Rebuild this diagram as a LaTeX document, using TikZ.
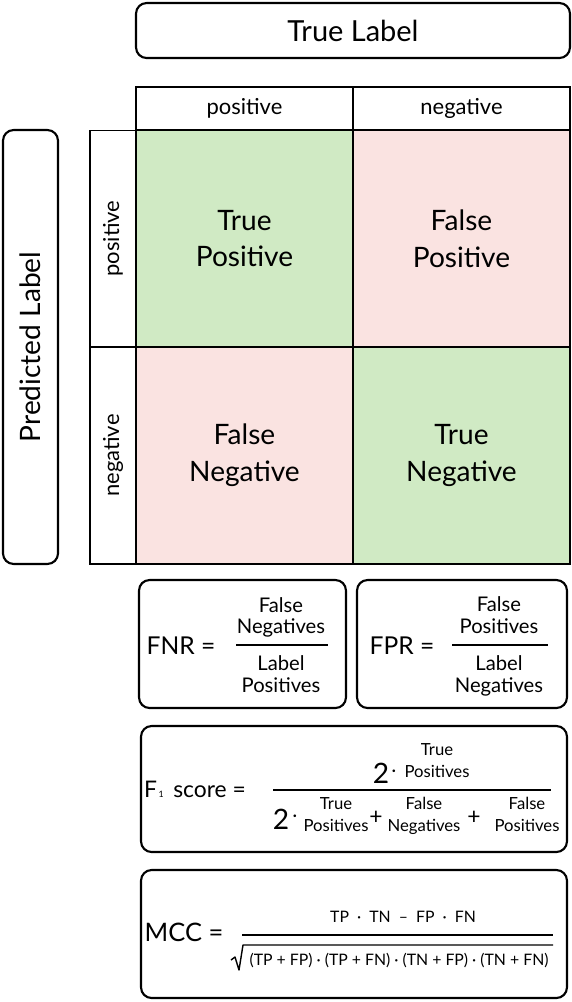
\documentclass[tikz,border=0pt]{standalone}
\usepackage{fontspec}
\setmainfont{Lato}
\usetikzlibrary{positioning}
\definecolor{cellgreen}{RGB}{208,234,196}
\definecolor{cellred}{RGB}{250,227,225}

\begin{document}
\begin{tikzpicture}[
    x=0.02cm, y=-0.02cm,
    roundbox/.style={rectangle, draw=black, line width=1.2pt, rounded corners=6pt,
                     inner sep=0pt, align=center},
    gridcell/.style={rectangle, draw=black, line width=0.6pt, inner sep=0pt,
                     minimum width=4.34cm, minimum height=4.34cm, align=center,
                     font=\fontsize{16}{21}\selectfont},
    colhead/.style={rectangle, draw=black, line width=0.6pt, inner sep=0pt,
                    minimum width=4.34cm, minimum height=0.86cm,
                    font=\fontsize{12.5}{14}\selectfont},
    rowhead/.style={colhead, minimum height=0.92cm, rotate=90},
    stack/.style={align=center, inner sep=0pt, font=\fontsize{11.5}{12.5}\selectfont},
    smallstack/.style={align=center, inner sep=0pt, font=\fontsize{9.5}{12.5}\selectfont},
    lhs/.style={inner sep=0pt, font=\fontsize{14}{16}\selectfont},
    fracbar/.style={line width=1.2pt},
]
\useasboundingbox (0,0) rectangle (572,1002);
%% Axis titles
\node[roundbox, minimum width=8.68cm, minimum height=1.1cm,
      font=\fontsize{16.5}{18}\selectfont] (truelabel) at (353,30.5) {True Label};
\node[roundbox, minimum width=8.68cm, minimum height=1.1cm, rotate=90,
      font=\fontsize{16}{18}\selectfont] (predlabel) at (30.5,347) {Predicted Label};
%% Confusion matrix
\node[colhead] (colpos) at (244.5,108.5) {positive};
\node[colhead] (colneg) at (461.5,108.5) {negative};
\node[rowhead] (rowpos) at (113,238.5) {positive};
\node[rowhead] (rowneg) at (113,455.5) {negative};
\node[gridcell, fill=cellgreen] (tp) at (244.5,238.5) {True\\Positive};
\node[gridcell, fill=cellred]   (fp) at (461.5,238.5) {False\\Positive};
\node[gridcell, fill=cellred]   (fn) at (244.5,455.5) {False\\Negative};
\node[gridcell, fill=cellgreen] (tn) at (461.5,455.5) {True\\Negative};
%% FNR and FPR
\node[roundbox, minimum width=4.14cm, minimum height=2.56cm] (fnrbox) at (242.5,644) {};
\node[roundbox, minimum width=4.2cm, minimum height=2.56cm]  (fprbox) at (462,644) {};
\node[lhs] (fnrlhs) at (181,646) {FNR =};
\draw[fracbar] (236,645) -- (328,645);
\node[stack, anchor=south] (fnrnum) at (281,638) {False\\Negatives};
\node[stack, anchor=north] (fnrden) at (281,655) {Label\\Positives};
\node[lhs] (fprlhs) at (402,646) {FPR =};
\draw[fracbar] (452,645) -- (548,645);
\node[stack, anchor=south] (fprnum) at (499,634) {False\\Positives};
\node[stack, anchor=north] (fprden) at (499,655) {Label\\Negatives};
%% F1 score
\node[roundbox, minimum width=8.52cm, minimum height=2.52cm] (f1box) at (354,789) {};
\node[lhs, font=\fontsize{13}{15}\selectfont] (f1lhs) at (195,789)
    {F{\fontsize{5}{5}\selectfont\,1}\,~score =};
\draw[fracbar] (273,790) -- (551,790);
\node[inner sep=0pt, font=\fontsize{16}{16}\selectfont, anchor=base] (numtwo) at (381,783) {2};
\node[inner sep=0pt, font=\fontsize{10}{10}\selectfont] (numdot) at (394,773) {·};
\node[smallstack, anchor=base] (numtp) at (437,777) {True\\Positives};
\node[inner sep=0pt, font=\fontsize{16}{16}\selectfont, anchor=base] (dentwo) at (281,829) {2};
\node[inner sep=0pt, font=\fontsize{10}{10}\selectfont] (dendot) at (295,818) {·};
\node[smallstack, anchor=base] (dentp) at (336,831) {True\\Positives};
\node[inner sep=0pt, font=\fontsize{13}{13}\selectfont] (plusa) at (376,818) {+};
\node[smallstack, anchor=base] (denfn) at (424,831) {False\\Negatives};
\node[inner sep=0pt, font=\fontsize{13}{13}\selectfont] (plusb) at (474,818) {+};
\node[smallstack, anchor=base] (denfp) at (527,831) {False\\Positives};
%% MCC
\node[roundbox, minimum width=8.52cm, minimum height=2.56cm] (mccbox) at (354,934) {};
\node[lhs, font=\fontsize{14.5}{17}\selectfont] (mcclhs) at (184,932) {MCC =};
\draw[fracbar] (242,935) -- (553,935);
\node[inner sep=0pt, font=\fontsize{9}{10}\selectfont] (mccnum) at (403,917)
    {TP~~·~~TN~~–~~FP~~·~~FN};
\node[inner sep=0pt, font=\fontsize{9}{10}\selectfont] (mccden) at (399,961)
    {(TP + FP) · (TP + FN) · (TN + FP) · (TN + FN)};
\draw[line width=0.8pt, line join=round] (231,960) -- (235,957) -- (239,970)
    -- (243,945) -- (553,945);
\end{tikzpicture}
\end{document}
